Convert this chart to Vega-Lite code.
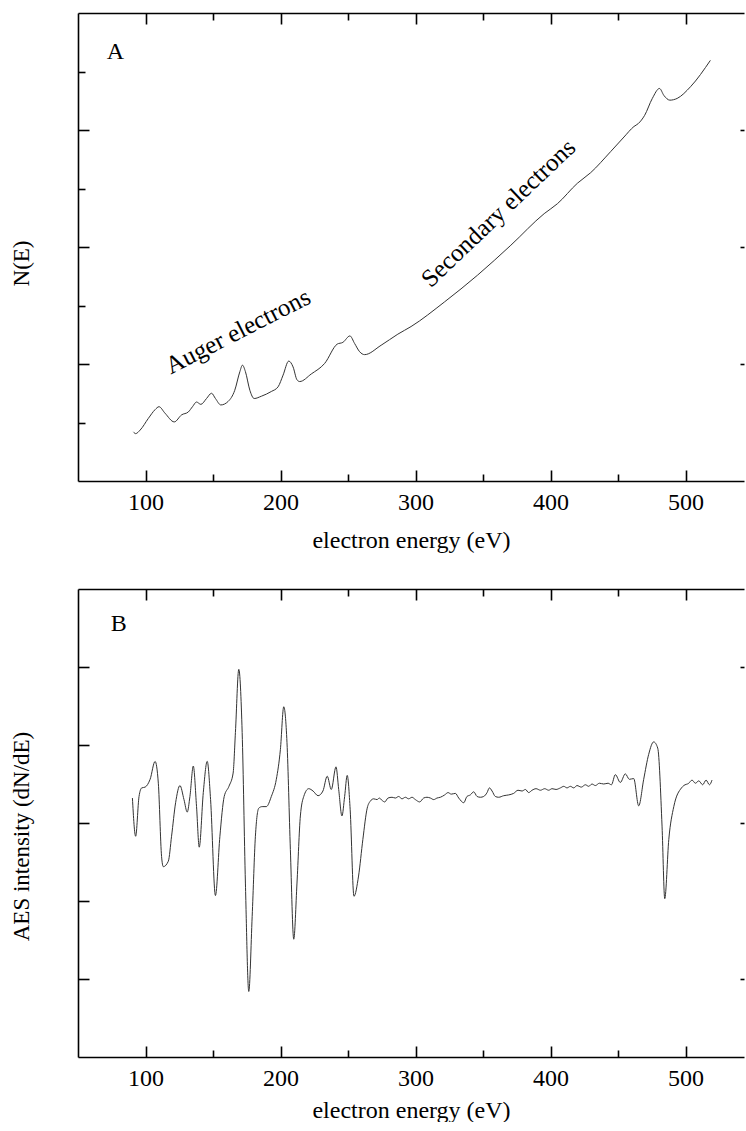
{
  "$schema": "https://vega.github.io/schema/vega-lite/v6.json",
  "padding": {"left": 10, "top": 12, "right": 0, "bottom": 0},
  "background": "white",
  "spacing": 36,
  "config": {
    "view": {"stroke": null},
    "font": "Liberation Serif",
    "axis": {
      "domain": false,
      "domainColor": "#000000",
      "domainWidth": 1.6,
      "grid": false,
      "tickColor": "#000000",
      "tickWidth": 1.6,
      "labelFont": "Liberation Serif",
      "labelFontSize": 24,
      "labelColor": "#000000",
      "titleFont": "Liberation Serif",
      "titleFontSize": 24,
      "titleFontWeight": "normal",
      "titleColor": "#000000"
    }
  },
  "datasets": {
    "nE": [
      {"E": 91, "N": 0.84}, {"E": 92.7, "N": 0.81}, {"E": 96, "N": 0.87}, {"E": 102.1, "N": 1.07},
      {"E": 107.1, "N": 1.22}, {"E": 110, "N": 1.27}, {"E": 114.4, "N": 1.16}, {"E": 121.3, "N": 1.01},
      {"E": 126.7, "N": 1.13}, {"E": 131.7, "N": 1.18}, {"E": 134.8, "N": 1.27}, {"E": 137.8, "N": 1.35},
      {"E": 141, "N": 1.31}, {"E": 145.2, "N": 1.41}, {"E": 148.9, "N": 1.5}, {"E": 151.8, "N": 1.41},
      {"E": 155.8, "N": 1.3}, {"E": 161.2, "N": 1.36}, {"E": 166.1, "N": 1.55}, {"E": 169.9, "N": 1.87},
      {"E": 171.8, "N": 1.98}, {"E": 174, "N": 1.87}, {"E": 177.3, "N": 1.55}, {"E": 180.5, "N": 1.41},
      {"E": 185.9, "N": 1.45}, {"E": 193.2, "N": 1.53}, {"E": 198.2, "N": 1.61}, {"E": 201.9, "N": 1.81},
      {"E": 206.1, "N": 2.05}, {"E": 209.3, "N": 1.95}, {"E": 212.2, "N": 1.73}, {"E": 214.2, "N": 1.7},
      {"E": 222.8, "N": 1.83}, {"E": 232.7, "N": 2.01}, {"E": 242, "N": 2.34}, {"E": 246.2, "N": 2.37},
      {"E": 251.4, "N": 2.48}, {"E": 254.9, "N": 2.35}, {"E": 258.6, "N": 2.21}, {"E": 262.3, "N": 2.16},
      {"E": 274.5, "N": 2.32}, {"E": 286.9, "N": 2.51}, {"E": 296.7, "N": 2.64}, {"E": 321.4, "N": 3.06},
      {"E": 346, "N": 3.52}, {"E": 370.6, "N": 4.03}, {"E": 395.3, "N": 4.57}, {"E": 405.1, "N": 4.74},
      {"E": 419.9, "N": 5.09}, {"E": 429.7, "N": 5.27}, {"E": 444.5, "N": 5.63}, {"E": 454.4, "N": 5.88},
      {"E": 461.8, "N": 6.06}, {"E": 465, "N": 6.11}, {"E": 469.7, "N": 6.25}, {"E": 475.4, "N": 6.54},
      {"E": 480.7, "N": 6.71}, {"E": 484, "N": 6.59}, {"E": 488.4, "N": 6.51}, {"E": 493.8, "N": 6.54},
      {"E": 503.7, "N": 6.74}, {"E": 518.4, "N": 7.19}
    ],
    "dNdE": [
      {"E": 90.3, "D": 0.32}, {"E": 92.7, "D": -0.17}, {"E": 95.2, "D": 0.34}, {"E": 97.2, "D": 0.45},
      {"E": 99.7, "D": 0.46}, {"E": 103.4, "D": 0.56}, {"E": 107.1, "D": 0.79}, {"E": 109.5, "D": 0.51},
      {"E": 111.9, "D": -0.43}, {"E": 113.2, "D": -0.56}, {"E": 116.9, "D": -0.49}, {"E": 119.3, "D": -0.17},
      {"E": 122.3, "D": 0.26}, {"E": 125.5, "D": 0.48}, {"E": 128.5, "D": 0.3}, {"E": 130.9, "D": 0.14},
      {"E": 132.9, "D": 0.34}, {"E": 135.4, "D": 0.73}, {"E": 137.8, "D": 0.21}, {"E": 139.8, "D": -0.31},
      {"E": 142.8, "D": 0.39}, {"E": 145.7, "D": 0.79}, {"E": 148.2, "D": 0.3}, {"E": 151.8, "D": -0.93},
      {"E": 155.1, "D": -0.17}, {"E": 158.3, "D": 0.34}, {"E": 161.8, "D": 0.47}, {"E": 164.9, "D": 0.64},
      {"E": 166.6, "D": 1.16}, {"E": 169.1, "D": 1.97}, {"E": 171.6, "D": 1.16}, {"E": 174, "D": -0.77},
      {"E": 176.5, "D": -2.16}, {"E": 179, "D": -1.2}, {"E": 181.4, "D": -0.17}, {"E": 183.9, "D": 0.19},
      {"E": 186.4, "D": 0.21}, {"E": 189.5, "D": 0.21}, {"E": 193.2, "D": 0.34}, {"E": 196.9, "D": 0.56},
      {"E": 199.9, "D": 0.94}, {"E": 202.4, "D": 1.49}, {"E": 204.8, "D": 1.03}, {"E": 207.3, "D": -0.34},
      {"E": 209.8, "D": -1.49}, {"E": 212.2, "D": -0.77}, {"E": 214.7, "D": 0.09}, {"E": 217.2, "D": 0.34},
      {"E": 220.9, "D": 0.44}, {"E": 224.1, "D": 0.41}, {"E": 227.8, "D": 0.35}, {"E": 231.4, "D": 0.41},
      {"E": 234.6, "D": 0.6}, {"E": 237.6, "D": 0.43}, {"E": 241.1, "D": 0.72}, {"E": 243.1, "D": 0.43},
      {"E": 245.5, "D": 0.09}, {"E": 247.5, "D": 0.34}, {"E": 249.4, "D": 0.61}, {"E": 251.6, "D": 0.17},
      {"E": 254.4, "D": -0.94}, {"E": 257.8, "D": -0.68}, {"E": 261, "D": -0.21}, {"E": 264.2, "D": 0.19},
      {"E": 266.5, "D": 0.28}, {"E": 269, "D": 0.31}, {"E": 271.5, "D": 0.3}, {"E": 273.2, "D": 0.32},
      {"E": 275.2, "D": 0.29}, {"E": 277.2, "D": 0.27}, {"E": 279.6, "D": 0.32}, {"E": 282.6, "D": 0.33},
      {"E": 285.1, "D": 0.32}, {"E": 287.5, "D": 0.34}, {"E": 290, "D": 0.31}, {"E": 292.5, "D": 0.33},
      {"E": 294.9, "D": 0.31}, {"E": 297.4, "D": 0.33}, {"E": 299.9, "D": 0.3}, {"E": 303.1, "D": 0.27},
      {"E": 306, "D": 0.32}, {"E": 308.5, "D": 0.33}, {"E": 311, "D": 0.32}, {"E": 313.5, "D": 0.3},
      {"E": 315.9, "D": 0.32}, {"E": 318.4, "D": 0.33}, {"E": 321.6, "D": 0.36}, {"E": 324.1, "D": 0.39},
      {"E": 326.5, "D": 0.37}, {"E": 329.5, "D": 0.38}, {"E": 332, "D": 0.32}, {"E": 335.7, "D": 0.26},
      {"E": 338.1, "D": 0.34}, {"E": 340.6, "D": 0.36}, {"E": 343.1, "D": 0.4}, {"E": 345.6, "D": 0.34},
      {"E": 348, "D": 0.33}, {"E": 350.5, "D": 0.34}, {"E": 353, "D": 0.39}, {"E": 354.7, "D": 0.45},
      {"E": 356.7, "D": 0.41}, {"E": 359.1, "D": 0.34}, {"E": 361.6, "D": 0.33}, {"E": 365.3, "D": 0.35},
      {"E": 369, "D": 0.36}, {"E": 372.7, "D": 0.38}, {"E": 375.9, "D": 0.42}, {"E": 378.9, "D": 0.41},
      {"E": 381.4, "D": 0.43}, {"E": 383.8, "D": 0.39}, {"E": 386.3, "D": 0.42}, {"E": 389.3, "D": 0.44},
      {"E": 392.5, "D": 0.42}, {"E": 395.7, "D": 0.44}, {"E": 398.6, "D": 0.42}, {"E": 401.1, "D": 0.44},
      {"E": 404.1, "D": 0.43}, {"E": 407.3, "D": 0.45}, {"E": 409.8, "D": 0.47}, {"E": 412.2, "D": 0.45},
      {"E": 414.7, "D": 0.47}, {"E": 417.2, "D": 0.45}, {"E": 419.6, "D": 0.48}, {"E": 422.8, "D": 0.46},
      {"E": 425.8, "D": 0.49}, {"E": 428.3, "D": 0.47}, {"E": 430.7, "D": 0.5}, {"E": 433.2, "D": 0.48},
      {"E": 436.2, "D": 0.51}, {"E": 439.4, "D": 0.5}, {"E": 442.6, "D": 0.51}, {"E": 445.1, "D": 0.49},
      {"E": 448, "D": 0.62}, {"E": 451.7, "D": 0.52}, {"E": 455.4, "D": 0.63}, {"E": 458.4, "D": 0.56},
      {"E": 461.6, "D": 0.57}, {"E": 465.3, "D": 0.22}, {"E": 469, "D": 0.56}, {"E": 472.7, "D": 0.88},
      {"E": 476.4, "D": 1.04}, {"E": 479.4, "D": 0.96}, {"E": 482.6, "D": -0.04}, {"E": 484.6, "D": -0.97},
      {"E": 487.6, "D": -0.21}, {"E": 491.3, "D": 0.21}, {"E": 497, "D": 0.45}, {"E": 498.7, "D": 0.48},
      {"E": 502.4, "D": 0.51}, {"E": 504.8, "D": 0.55}, {"E": 507.3, "D": 0.51}, {"E": 509.8, "D": 0.54},
      {"E": 512.7, "D": 0.49}, {"E": 515.2, "D": 0.55}, {"E": 517.7, "D": 0.49}, {"E": 519.6, "D": 0.55}
    ]
  },
  "vconcat": [
    {
      "width": 666,
      "height": 468,
      "resolve": {"axis": {"x": "independent", "y": "independent"}},
      "layer": [
        {
          "data": {"name": "nE"},
          "mark": {"type": "line", "stroke": "#333333", "strokeWidth": 1, "interpolate": "monotone"},
          "encoding": {
            "x": {"field": "E", "type": "quantitative", "scale": {"domain": [50, 543.3], "nice": false, "zero": false},
              "axis": {"orient": "bottom", "domain": true, "values": [100, 200, 300, 400, 500], "tickSize": -11, "labelPadding": 20, "format": "d",
                "title": "electron energy (eV)", "titleY": 66, "titleBaseline": "alphabetic"}},
            "y": {"field": "N", "type": "quantitative", "scale": {"domain": [0, 8], "nice": false, "zero": false},
              "axis": {"orient": "left", "domain": true, "values": [2, 4, 6], "tickSize": -11, "labels": false,
                "title": "N(E)", "titleFontSize": 23, "titleX": -57, "titleY": 250, "titleAngle": -90, "titleAlign": "center", "titleBaseline": "middle"}}
          }
        },
        {
          "data": {"name": "nE"},
          "mark": {"type": "point", "opacity": 0},
          "encoding": {
            "x": {"field": "E", "type": "quantitative", "scale": {"domain": [50, 543.3], "nice": false, "zero": false},
              "axis": {"orient": "bottom", "values": [150, 250, 350, 450], "tickSize": -7, "labels": false, "title": null}},
            "y": {"field": "N", "type": "quantitative", "scale": {"domain": [0, 8], "nice": false, "zero": false},
              "axis": {"orient": "left", "values": [1, 3, 5, 7], "tickSize": -7, "labels": false, "title": null}}
          }
        },
        {
          "data": {"name": "nE"},
          "mark": {"type": "point", "opacity": 0},
          "encoding": {
            "x": {"field": "E", "type": "quantitative", "scale": {"domain": [50, 543.3], "nice": false, "zero": false},
              "axis": {"orient": "top", "domain": true, "values": [100, 200, 300, 400, 500], "tickSize": -11, "labels": false, "title": null}},
            "y": {"field": "N", "type": "quantitative", "scale": {"domain": [0, 8], "nice": false, "zero": false},
              "axis": {"orient": "right", "values": [2, 4, 6], "tickSize": -4, "labels": false, "title": null}}
          }
        },
        {
          "data": {"name": "nE"},
          "mark": {"type": "point", "opacity": 0},
          "encoding": {
            "x": {"field": "E", "type": "quantitative", "scale": {"domain": [50, 543.3], "nice": false, "zero": false},
              "axis": {"orient": "top", "values": [150, 250, 350, 450], "tickSize": -7, "labels": false, "title": null}},
            "y": {"field": "N", "type": "quantitative", "scale": {"domain": [0, 8], "nice": false, "zero": false}, "axis": null}
          }
        },
        {
          "data": {"values": [{"E": 77.7, "N": 7.33, "t": "A"}]},
          "mark": {"type": "text", "font": "Liberation Serif", "fontSize": 24, "color": "#000000", "align": "center", "baseline": "middle"},
          "encoding": {
            "x": {"field": "E", "type": "quantitative", "axis": null},
            "y": {"field": "N", "type": "quantitative", "axis": null},
            "text": {"field": "t"}
          }
        },
        {
          "data": {"values": [{"E": 168.4, "N": 2.56, "t": "Auger electrons"}]},
          "mark": {"type": "text", "font": "Liberation Serif", "fontSize": 25, "color": "#000000", "align": "center", "baseline": "middle", "angle": -27},
          "encoding": {
            "x": {"field": "E", "type": "quantitative", "axis": null},
            "y": {"field": "N", "type": "quantitative", "axis": null},
            "text": {"field": "t"}
          }
        },
        {
          "data": {"values": [{"E": 361.3, "N": 4.58, "t": "Secondary electrons"}]},
          "mark": {"type": "text", "font": "Liberation Serif", "fontSize": 25, "color": "#000000", "align": "center", "baseline": "middle", "angle": -43.6},
          "encoding": {
            "x": {"field": "E", "type": "quantitative", "axis": null},
            "y": {"field": "N", "type": "quantitative", "axis": null},
            "text": {"field": "t"}
          }
        }
      ]
    },
    {
      "width": 666,
      "height": 468,
      "resolve": {"axis": {"x": "independent", "y": "independent"}},
      "layer": [
        {
          "data": {"name": "dNdE"},
          "mark": {"type": "line", "stroke": "#333333", "strokeWidth": 1, "interpolate": "monotone"},
          "encoding": {
            "x": {"field": "E", "type": "quantitative", "scale": {"domain": [50, 543.3], "nice": false, "zero": false},
              "axis": {"orient": "bottom", "domain": true, "values": [100, 200, 300, 400, 500], "tickSize": -11, "labelPadding": 20, "format": "d",
                "title": "electron energy (eV)", "titleY": 60, "titleBaseline": "alphabetic"}},
            "y": {"field": "D", "type": "quantitative", "scale": {"domain": [-3, 3], "nice": false, "zero": false},
              "axis": {"orient": "left", "domain": true, "values": [-2, -1, 0, 1, 2], "tickSize": -11, "labels": false,
                "title": "AES intensity (dN/dE)", "titleFontSize": 23, "titleX": -57, "titleY": 247, "titleAngle": -90, "titleAlign": "center", "titleBaseline": "middle"}}
          }
        },
        {
          "data": {"name": "dNdE"},
          "mark": {"type": "point", "opacity": 0},
          "encoding": {
            "x": {"field": "E", "type": "quantitative", "scale": {"domain": [50, 543.3], "nice": false, "zero": false},
              "axis": {"orient": "bottom", "values": [150, 250, 350, 450], "tickSize": -7, "labels": false, "title": null}},
            "y": {"field": "D", "type": "quantitative", "scale": {"domain": [-3, 3], "nice": false, "zero": false},
              "axis": {"orient": "right", "values": [-2, 0, 2], "tickSize": -4, "labels": false, "title": null}}
          }
        },
        {
          "data": {"name": "dNdE"},
          "mark": {"type": "point", "opacity": 0},
          "encoding": {
            "x": {"field": "E", "type": "quantitative", "scale": {"domain": [50, 543.3], "nice": false, "zero": false},
              "axis": {"orient": "top", "domain": true, "values": [100, 200, 300, 400, 500], "tickSize": -11, "labels": false, "title": null}},
            "y": {"field": "D", "type": "quantitative", "scale": {"domain": [-3, 3], "nice": false, "zero": false}, "axis": null}
          }
        },
        {
          "data": {"name": "dNdE"},
          "mark": {"type": "point", "opacity": 0},
          "encoding": {
            "x": {"field": "E", "type": "quantitative", "scale": {"domain": [50, 543.3], "nice": false, "zero": false},
              "axis": {"orient": "top", "values": [150, 250, 350, 450], "tickSize": -7, "labels": false, "title": null}},
            "y": {"field": "D", "type": "quantitative", "scale": {"domain": [-3, 3], "nice": false, "zero": false}, "axis": null}
          }
        },
        {
          "data": {"values": [{"E": 80.1, "D": 2.546, "t": "B"}]},
          "mark": {"type": "text", "font": "Liberation Serif", "fontSize": 24, "color": "#000000", "align": "center", "baseline": "middle"},
          "encoding": {
            "x": {"field": "E", "type": "quantitative", "axis": null},
            "y": {"field": "D", "type": "quantitative", "axis": null},
            "text": {"field": "t"}
          }
        }
      ]
    }
  ]
}
